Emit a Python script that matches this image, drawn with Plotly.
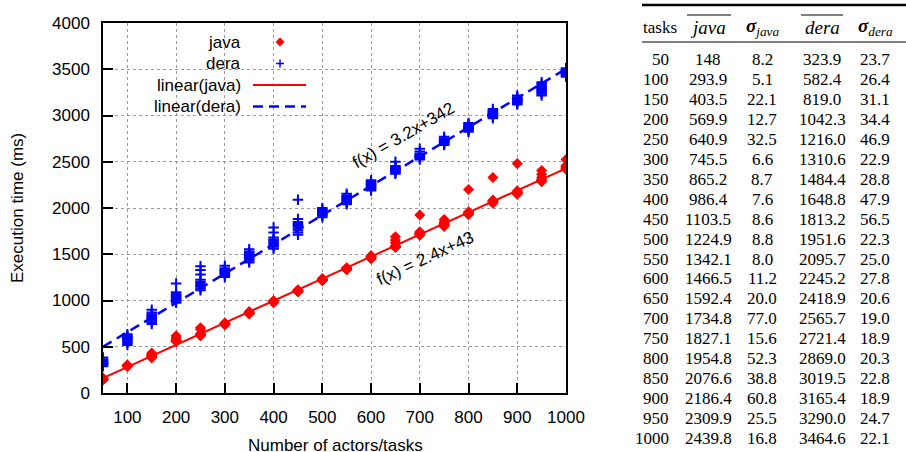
import numpy as np
import plotly.graph_objects as go

# ---------------- data ----------------
tasks = [50, 100, 150, 200, 250, 300, 350, 400, 450, 500,
         550, 600, 650, 700, 750, 800, 850, 900, 950, 1000]

java_mean_txt = ["148", "293.9", "403.5", "569.9", "640.9", "745.5", "865.2", "986.4", "1103.5", "1224.9",
                 "1342.1", "1466.5", "1592.4", "1734.8", "1827.1", "1954.8", "2076.6", "2186.4", "2309.9", "2439.8"]
java_sd_txt = ["8.2", "5.1", "22.1", "12.7", "32.5", "6.6", "8.7", "7.6", "8.6", "8.8",
               "8.0", "11.2", "20.0", "77.0", "15.6", "52.3", "38.8", "60.8", "25.5", "16.8"]
dera_mean_txt = ["323.9", "582.4", "819.0", "1042.3", "1216.0", "1310.6", "1484.4", "1648.8", "1813.2", "1951.6",
                 "2095.7", "2245.2", "2418.9", "2565.7", "2721.4", "2869.0", "3019.5", "3165.4", "3290.0", "3464.6"]
dera_sd_txt = ["23.7", "26.4", "31.1", "34.4", "46.9", "22.9", "28.8", "47.9", "56.5", "22.3",
               "25.0", "27.8", "20.6", "19.0", "18.9", "20.3", "22.8", "18.9", "24.7", "22.1"]

# individual runs (one list per task count)
java_runs = [
    [140, 144, 147, 149, 151, 153, 156, 160],
    [287, 290, 292, 294, 295, 297, 299, 302],
    [380, 388, 395, 400, 405, 410, 418, 432],
    [556, 560, 564, 567, 570, 574, 598, 618],
    [618, 622, 626, 630, 634, 640, 690, 705],
    [738, 741, 743, 745, 747, 749, 752, 756],
    [855, 859, 862, 865, 867, 869, 872, 880],
    [977, 981, 984, 986, 988, 990, 993, 998],
    [1094, 1098, 1101, 1103, 1105, 1107, 1110, 1116],
    [1214, 1218, 1222, 1225, 1227, 1229, 1232, 1238],
    [1332, 1336, 1339, 1342, 1344, 1346, 1349, 1354],
    [1452, 1458, 1462, 1465, 1468, 1471, 1476, 1485],
    [1572, 1578, 1582, 1586, 1590, 1625, 1655, 1690],
    [1705, 1712, 1718, 1722, 1727, 1733, 1742, 1925],
    [1800, 1808, 1814, 1820, 1826, 1834, 1848, 1875],
    [1928, 1934, 1940, 1944, 1948, 1952, 1958, 2200],
    [2052, 2058, 2064, 2068, 2072, 2078, 2085, 2330],
    [2150, 2158, 2163, 2168, 2172, 2177, 2185, 2480],
    [2285, 2290, 2296, 2302, 2310, 2330, 2365, 2405],
    [2418, 2424, 2430, 2436, 2442, 2448, 2460, 2525],
]
dera_runs = [
    [290, 300, 310, 318, 325, 332, 340, 350, 365, 385],
    [520, 540, 555, 568, 578, 586, 595, 605, 618, 635],
    [745, 765, 785, 800, 812, 825, 838, 852, 870, 900],
    [975, 990, 1005, 1018, 1030, 1042, 1055, 1070, 1090, 1185],
    [1110, 1130, 1150, 1165, 1180, 1200, 1225, 1280, 1330, 1370],
    [1255, 1270, 1285, 1295, 1305, 1315, 1325, 1335, 1350, 1375],
    [1410, 1430, 1445, 1460, 1475, 1490, 1500, 1515, 1530, 1555],
    [1560, 1580, 1600, 1615, 1630, 1645, 1660, 1680, 1735, 1790],
    [1710, 1735, 1760, 1780, 1800, 1815, 1830, 1850, 1880, 2090],
    [1900, 1915, 1928, 1938, 1948, 1955, 1962, 1972, 1985, 2000],
    [2040, 2055, 2068, 2080, 2090, 2100, 2110, 2122, 2135, 2155],
    [2190, 2205, 2218, 2230, 2242, 2252, 2262, 2274, 2288, 2300],
    [2370, 2385, 2395, 2405, 2415, 2422, 2430, 2440, 2455, 2500],
    [2525, 2535, 2545, 2552, 2560, 2568, 2578, 2590, 2610, 2640],
    [2680, 2690, 2700, 2710, 2718, 2725, 2733, 2742, 2752, 2770],
    [2825, 2838, 2848, 2858, 2866, 2874, 2882, 2892, 2905, 2920],
    [2970, 2985, 2995, 3005, 3015, 3022, 3030, 3040, 3052, 3070],
    [3120, 3132, 3142, 3152, 3160, 3168, 3176, 3186, 3198, 3215],
    [3215, 3235, 3250, 3265, 3280, 3292, 3305, 3320, 3340, 3360],
    [3420, 3432, 3442, 3452, 3460, 3468, 3476, 3486, 3496, 3510],
]

x_ticks = [100, 200, 300, 400, 500, 600, 700, 800, 900, 1000]
y_ticks = [0, 500, 1000, 1500, 2000, 2500, 3000, 3500, 4000]
series_names = ["java", "dera", "linear(java)", "linear(dera)"]
fit_label_java = "f(x) = 2.4x+43"
fit_label_dera = "f(x) = 3.2x+342"
header_cells = ["tasks", "<i>java</i>", "<b><i>σ</i></b><sub><i>java</i></sub>",
                "<i>dera</i>", "<b><i>σ</i></b><sub><i>dera</i></sub>"]

# ---------------- geometry helpers ----------------
W, H = 906, 452
def px(x):
    return x / W
def py(y):
    return 1 - y / H

RED = "#ff0000"
BLUE = "#0000ff"
SANS = "Liberation Sans, Arial, sans-serif"
SERIF = "Liberation Serif, Times New Roman, serif"

fig = go.Figure()

jx = [t for t, r in zip(tasks, java_runs) for _ in r]
jy = [v for r in java_runs for v in r]
dx = [t for t, r in zip(tasks, dera_runs) for _ in r]
dy = [v for r in dera_runs for v in r]

fig.add_trace(go.Scatter(x=jx, y=jy, mode="markers", name=series_names[0], showlegend=False,
                         marker=dict(symbol="diamond", size=8.5, color=RED, line=dict(width=0))))
fig.add_trace(go.Scatter(x=dx, y=dy, mode="markers", name=series_names[1], showlegend=False,
                         marker=dict(symbol="cross-thin", size=7.5, color=BLUE,
                                     line=dict(color=BLUE, width=2))))

t_arr = np.array(tasks, float)
jm = np.array(java_mean_txt, float)
dm = np.array(dera_mean_txt, float)
aj, bj = np.polyfit(t_arr, jm, 1)
ad, bd = np.polyfit(t_arr, dm, 1)
xl = np.array([t_arr.min(), t_arr.max()])

fig.add_trace(go.Scatter(x=xl, y=aj * xl + bj, mode="lines", name=series_names[2], showlegend=False,
                         line=dict(color=RED, width=2)))
fig.add_trace(go.Scatter(x=xl, y=ad * xl + bd, mode="lines", name=series_names[3], showlegend=False,
                         line=dict(color=BLUE, width=2.5, dash="10px,6px")))

axis_common = dict(
    ticks="inside", ticklen=10, tickwidth=1.5, tickcolor="black",
    showline=True, mirror=True, linecolor="black", linewidth=1.5,
    showgrid=True, gridcolor="#9a9a9a", griddash="dot", gridwidth=1,
    zeroline=False, automargin=False,
    tickfont=dict(family=SANS, size=17, color="black"),
)
fig.update_xaxes(range=[50, 1000], tickvals=x_ticks, domain=[px(103), px(566)],
                 ticklabelstandoff=8, **axis_common)
fig.update_yaxes(range=[0, 4000], tickvals=y_ticks, domain=[py(393), py(23)],
                 ticklabelstandoff=8, **axis_common)

shapes = []
annotations = []

# legend box (hides grid behind legend)
shapes.append(dict(type="rect", xref="paper", yref="paper", x0=px(104), x1=px(315),
                   y0=py(117), y1=py(33), fillcolor="white", line=dict(width=0), layer="between"))

leg_rows = [42, 63.5, 85, 106.5]
for name, yy in zip(series_names, leg_rows):
    annotations.append(dict(text=name, x=px(243), y=py(yy), xref="paper", yref="paper",
                            xanchor="right", yanchor="middle", showarrow=False,
                            font=dict(family=SANS, size=17, color="black")))
# legend keys
cx, r = 280, 4.5
y0 = leg_rows[0]
shapes.append(dict(type="path", xref="paper", yref="paper",
                   path=f"M {px(cx)},{py(y0 - r)} L {px(cx + r)},{py(y0)} L {px(cx)},{py(y0 + r)} L {px(cx - r)},{py(y0)} Z",
                   fillcolor=RED, line=dict(width=0)))
y1 = leg_rows[1]
shapes.append(dict(type="line", xref="paper", yref="paper", x0=px(cx - 4), x1=px(cx + 4),
                   y0=py(y1), y1=py(y1), line=dict(color=BLUE, width=1.5)))
shapes.append(dict(type="line", xref="paper", yref="paper", x0=px(cx), x1=px(cx),
                   y0=py(y1 - 4), y1=py(y1 + 4), line=dict(color=BLUE, width=1.5)))
shapes.append(dict(type="line", xref="paper", yref="paper", x0=px(253), x1=px(306),
                   y0=py(leg_rows[2]), y1=py(leg_rows[2]), line=dict(color=RED, width=2)))
shapes.append(dict(type="line", xref="paper", yref="paper", x0=px(253), x1=px(306),
                   y0=py(leg_rows[3]), y1=py(leg_rows[3]), line=dict(color=BLUE, width=2.5, dash="10px,6px")))

# fit labels
annotations.append(dict(text=fit_label_dera, x=666, y=2789, xref="x", yref="y", showarrow=False,
                        xanchor="center", yanchor="middle",
                        textangle=-30, font=dict(family=SANS, size=17, color="black")))
annotations.append(dict(text=fit_label_java, x=711, y=1449, xref="x", yref="y", showarrow=False,
                        xanchor="center", yanchor="middle",
                        textangle=-25, font=dict(family=SANS, size=17, color="black")))

# axis titles
annotations.append(dict(text="Execution time (ms)", x=px(17), y=py(208), xref="paper", yref="paper",
                        xanchor="center", yanchor="middle",
                        showarrow=False, textangle=-90, font=dict(family=SANS, size=17, color="black")))
annotations.append(dict(text="Number of actors/tasks", x=px(335), y=py(445), xref="paper", yref="paper",
                        xanchor="center", yanchor="middle",
                        showarrow=False, font=dict(family=SANS, size=17, color="black")))

# ---------------- table ----------------
col_x = [660, 708, 762, 822, 875]
for ci, (text, cxp) in enumerate(zip(header_cells, col_x)):
    annotations.append(dict(text=text, x=px(cxp), y=py(27), xref="paper", yref="paper",
                            showarrow=False, xanchor="center", yanchor="middle",
                            font=dict(family=SERIF, size=17 if ci == 0 else 19, color="black")))
columns = [[str(t) for t in tasks], java_mean_txt, java_sd_txt, dera_mean_txt, dera_sd_txt]
for ci, col in enumerate(columns):
    for ri, val in enumerate(col):
        yy = 59.5 + 19.95 * ri
        if ci == 0:
            ann = dict(x=px(671), xanchor="right")
        else:
            ann = dict(x=px(col_x[ci]), xanchor="center")
        annotations.append(dict(text=val, y=py(yy), xref="paper", yref="paper", showarrow=False,
                                yanchor="middle", font=dict(family=SERIF, size=17, color="black"), **ann))

shapes.append(dict(type="line", xref="paper", yref="paper", x0=px(642), x1=px(906),
                   y0=py(5), y1=py(5), line=dict(color="black", width=2.5)))
shapes.append(dict(type="line", xref="paper", yref="paper", x0=px(642), x1=px(906),
                   y0=py(42), y1=py(42), line=dict(color="black", width=1.2)))
for a, b in [(687, 731), (801, 843)]:
    shapes.append(dict(type="line", xref="paper", yref="paper", x0=px(a), x1=px(b),
                       y0=py(15), y1=py(15), line=dict(color="black", width=1)))

fig.update_layout(width=W, height=H, margin=dict(l=0, r=0, t=0, b=0),
                  paper_bgcolor="white", plot_bgcolor="white", showlegend=False,
                  shapes=shapes, annotations=annotations)

fig.write_html("out.html", config={"displayModeBar": False},
               post_script="document.body.style.margin='0';document.body.style.overflow='hidden';")
